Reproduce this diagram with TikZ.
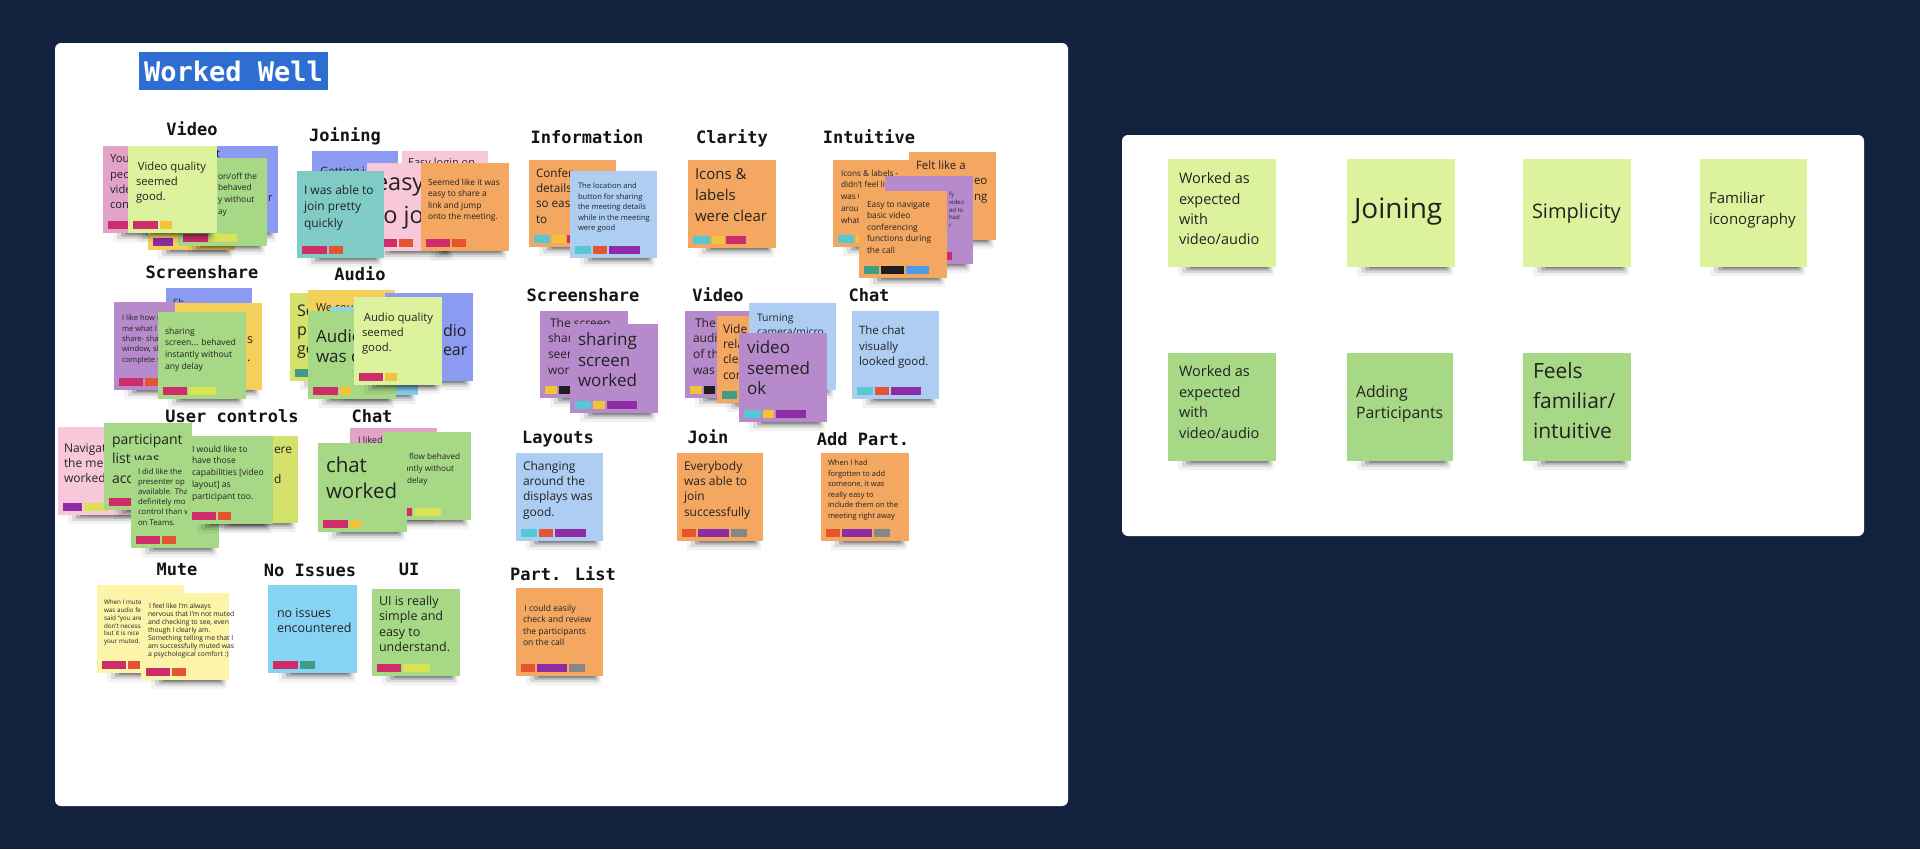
\documentclass[tikz,border=0pt]{standalone}
\usepackage{fontspec}
\setmainfont{Open Sans}
\newfontfamily\hd{DejaVu Sans Mono}
\usetikzlibrary{calc}
\definecolor{navy}{HTML}{12223F}
\definecolor{ttl}{HTML}{2E6DD1}
\definecolor{lyg}{HTML}{DDF29C}
\definecolor{grn}{HTML}{A6D886}
\definecolor{org}{HTML}{F3A761}
\definecolor{pur}{HTML}{B78BCB}
\definecolor{peri}{HTML}{8A9BF1}
\definecolor{lblu}{HTML}{AECDF3}
\definecolor{pnk}{HTML}{E3A3C9}
\definecolor{lpnk}{HTML}{F8C8DA}
\definecolor{tea}{HTML}{80CBC6}
\definecolor{yel}{HTML}{F4D05A}
\definecolor{chr}{HTML}{D4E26B}
\definecolor{cya}{HTML}{86D3F4}
\definecolor{lyel}{HTML}{FBF4A9}
\definecolor{tpk}{HTML}{CE2D69}
\definecolor{tyl}{HTML}{F2C238}
\definecolor{tor}{HTML}{E25530}
\definecolor{tpu}{HTML}{8E2CA6}
\definecolor{tcy}{HTML}{55C8D2}
\definecolor{tyg}{HTML}{D8E456}
\definecolor{ttea}{HTML}{3E9D84}
\definecolor{tbk}{HTML}{1E1E1E}
\definecolor{tbl}{HTML}{4E9CE8}
\definecolor{tgy}{HTML}{878787}
\definecolor{txt}{HTML}{222222}
\tikzset{
  stknote/.style={rectangle,inner sep=0pt,outer sep=0pt,draw=none},
  ntx/.style={anchor=north west,inner sep=0pt,outer sep=0pt,align=left,text=txt},
  hd/.style={anchor=base,inner sep=0pt,font=\hd\bfseries\fontsize{17}{20}\selectfont,text=black!92}
}
% sticky note: name, x, y, w, h, colour
\newcommand\stk[6]{%
  \foreach \sop/\sex/\sl/\sr in {0.05/9/10/2,0.10/6/14/4,0.18/3.5/18/6,0.25/1.5/22/8}{
    \fill[black,opacity=\sop,rounded corners=1.2pt] (#2+\sl,#3+#5-1) rectangle (#2+#4-\sr,#3+#5+\sex);
  }
  \node[stknote,fill=#6,minimum width=#4pt,minimum height=#5pt,anchor=north west] (#1) at (#2,#3) {};
}
% tags: note name, list colour/width
\newcommand\tags[2]{%
  \gdef\tagx{5}%
  \foreach \cc/\ww in {#2}{
    \fill[\cc] ($(#1.south west)+(\tagx,-12)$) rectangle ++(\ww,8);
    \pgfmathsetmacro\ntagx{\tagx+\ww+2}\xdef\tagx{\ntagx}
  }
}
% text: name, x, y (x-height centre of first line), size, skip, text
\newcommand\ntext[6]{\node[ntx,font=\fontsize{#4}{#5}\selectfont] (#1) at (#2,#3-0.5*#4) {\rule{0pt}{0.76em}#6};}
\begin{document}
\begin{tikzpicture}[x=1pt,y=-1pt]
\useasboundingbox (0,0) rectangle (1920,849);
\fill[navy] (0,0) rectangle (1920,849);
\fill[white,rounded corners=6pt] (55,43) rectangle (1068,806);
\fill[white,rounded corners=6pt] (1122,135) rectangle (1864,536);
\node[fill=ttl,minimum width=189pt,minimum height=38pt,inner sep=0pt,text=white,font=\hd\bfseries\fontsize{27}{30}\selectfont] (title) at (233.5,71) {Worked Well};

% ---------------- Video
\stk{vpink}{103}{146}{88}{87}{pnk}\tags{vpink}{tpk/24}
\ntext{tvp}{110}{160}{11.3}{15.3}{You\\peop\\video\\con}
\stk{vblue}{190}{146}{88}{87}{peri}
\ntext{tvb1}{216}{155}{11}{14}{t}
\ntext{tvb2}{268}{199}{11}{14}{r}
\stk{vyel}{148}{163}{87}{87}{yel}\tags{vyel}{tpu/20}
\stk{vgrn}{178}{158}{89}{88}{grn}\tags{vgrn}{tpk/25,tyg/27}
\ntext{tvg}{218}{177}{8.4}{11.7}{on/off the\\behaved\\y without\\ay}
\stk{vfront}{128}{146}{89}{87}{lyg}\tags{vfront}{tpk/25,tyl/12}
\ntext{tvf}{136}{168}{11.3}{15}{\,Video quality\\seemed\\good.}

% ---------------- Joining
\stk{jblue}{312}{151}{86}{87}{peri}
\ntext{tjb}{320}{173}{11.5}{14}{Getting i}
\stk{jpink2}{402}{151}{86}{87}{lpnk}
\ntext{tjp2}{408}{164}{11}{14}{Easy login on}
\stk{jpink}{367}{163}{88}{88}{lpnk}\tags{jpink}{tpk/25,tor/14}
\ntext{tjp}{375}{184}{23.5}{33}{easy\\to jo}
\stk{jteal}{297}{171}{87}{87}{tea}\tags{jteal}{tpk/25,tor/14}
\ntext{tjt}{304}{191}{12}{16.6}{I was able to\\join pretty\\quickly}
\stk{jorg}{421}{163}{88}{88}{org}\tags{jorg}{tpk/24,tor/14}
\ntext{tjo}{428}{183}{8.4}{11.5}{Seemed like it was\\easy to share a\\link and jump\\onto the meeting.}

% ---------------- Information
\stk{iorg}{529}{160}{87}{87}{org}\tags{iorg}{tcy/16,tyl/13,tpk/20}
\ntext{tio}{536}{174}{11.7}{15.4}{Confer\\details\\so eas\\to}
\stk{iblu}{570}{171}{87}{87}{lblu}\tags{iblu}{tcy/16,tor/14,tpu/31}
\ntext{tib}{578}{187}{7.6}{10.4}{The location and\\button for sharing\\the meeting details\\while in the meeting\\were good}

% ---------------- Clarity
\stk{corg}{688}{160}{88}{88}{org}\tags{corg}{tcy/17,tyl/12,tpk/20}
\ntext{tco}{695}{176}{15}{20.6}{Icons \&\\labels\\were clear}

% ---------------- Intuitive
\stk{int1}{833}{160}{87}{87}{org}\tags{int1}{tcy/16,tyl/13}
\ntext{ti1}{841}{174}{8.2}{11.8}{Icons \& labels -\\didn't feel li\\was t\\arou\\what}
\stk{int2}{909}{152}{87}{88}{org}
\ntext{ti2}{916}{167}{11.5}{15.5}{Felt like a}
\ntext{ti2b}{974}{182}{11.5}{15.5}{eo\\ng}
\stk{int3}{885}{176}{88}{88}{pur}\tags{int3}{ttea/15,tbk/23,tpk/20}
\ntext{ti3}{949}{195}{6}{7.8}{fy\\video\\ed to\\had\\r}
\stk{int4}{859}{191}{88}{87}{org}\tags{int4}{ttea/15,tbk/23,tbl/23}
\ntext{ti4}{867}{205}{8.4}{11.6}{Easy to navigate\\basic video\\conferencing\\functions during\\the call}

% ---------------- Screenshare
\stk{sblu}{166}{288}{86}{87}{peri}
\ntext{tsb}{173}{304}{10}{12}{Sh}
\stk{spur}{114}{302}{88}{88}{pur}\tags{spur}{tpk/24,tor/14}
\ntext{tsp}{122}{319}{7.6}{10.3}{I like how i\\me what I\\share- sha\\window, sl\\complete s}
\stk{syel}{175}{303}{87}{87}{yel}
\ntext{tsy}{247}{340}{12.5}{18}{s\\.}
\stk{sgrn}{158}{312}{88}{87}{grn}\tags{sgrn}{tpk/24,tyg/27}
\ntext{tsg}{165}{332}{8.6}{11.6}{sharing\\screen... behaved\\instantly without\\any delay}

% ---------------- Audio
\stk{aylg}{290}{293}{88}{88}{chr}\tags{aylg}{ttea/14}
\ntext{tay}{297}{312}{16}{19.3}{So\\pr\\go}
\stk{ayel}{308}{290}{87}{88}{yel}
\ntext{taye}{316}{309}{11}{14}{We cou}
\stk{acya}{330}{307}{88}{88}{cya}
\stk{ablu}{385}{293}{88}{88}{peri}
\ntext{tab}{443}{332}{16}{19}{dio\\ear}
\stk{agrn}{308}{311}{88}{88}{grn}\tags{agrn}{tpk/25,tyl/11}
\ntext{tag}{316}{338}{17}{20}{Audio\\was c}
\stk{afront}{354}{297}{88}{88}{lyg}\tags{afront}{tpk/24,tyl/12}
\ntext{taf}{362}{319}{11.3}{15}{\,Audio quality\\seemed\\good.}

% ---------------- Screenshare 2
\stk{s2b}{540}{311}{88}{87}{pur}\tags{s2b}{tyl/12,tbk/11,tpu/30}
\ntext{ts2b}{548}{324}{12}{15.7}{\,The screen\\shar\\seem\\work}
\stk{s2f}{570}{324}{88}{89}{pur}\tags{s2f}{tcy/16,tyl/12,tpu/30}
\ntext{ts2f}{578}{341}{17}{20.6}{sharing\\screen\\worked}

% ---------------- Video 2
\stk{v2p}{685}{311}{88}{87}{pur}\tags{v2p}{tyl/12,tbk/11}
\ntext{tv2p}{693}{324}{12}{15.7}{\,The\\audi\\of th\\was}
\stk{v2o}{717}{316}{88}{87}{org}\tags{v2o}{ttea/15,tbk/23}
\ntext{tv2o}{723}{330}{12}{15.3}{Vide\\rela\\clea\\cor}
\stk{v2b}{749}{303}{87}{87}{lblu}
\ntext{tv2b}{757}{319}{10.3}{14}{Turning\\camera/micro}
\stk{v2f}{739}{333}{88}{89}{pur}\tags{v2f}{tcy/17,tyl/11,tpu/30}
\ntext{tv2f}{747}{349}{17}{20.7}{video\\seemed\\ok}

% ---------------- Chat 2
\stk{c2b}{852}{311}{87}{88}{lblu}\tags{c2b}{tcy/16,tor/14,tpu/30}
\ntext{tc2}{859}{332}{11.5}{15.4}{The chat\\visually\\looked good.}

% ---------------- User controls
\stk{upnk}{58}{427}{88}{88}{lpnk}\tags{upnk}{tpu/19,tyg/24}
\ntext{tup}{64}{449}{12}{15}{Navigat\\the mee\\worked}
\stk{uylg}{210}{436}{88}{87}{chr}
\ntext{tuy1}{274}{450}{12}{15}{ere}
\ntext{tuy2}{274}{480}{12}{15}{d}
\stk{ug1}{104}{423}{88}{87}{grn}\tags{ug1}{tpk/22}
\ntext{tug1}{112}{441}{14}{19.2}{participant\\list was\\acc}
\stk{ug2}{131}{460}{88}{88}{grn}\tags{ug2}{tpk/24,tor/14}
\ntext{tug2}{138}{472}{7.8}{10.2}{I did like the\\presenter op\\available. Tha\\definitely mo\\control than w\\on Teams.}
\stk{ug3}{187}{436}{86}{88}{grn}\tags{ug3}{tpk/24,tor/13}
\ntext{tug3}{192}{450}{8.6}{11.7}{I would like to\\have those\\capabilities [video\\layout] as\\participant too.}

% ---------------- Chat 1
\stk{c1p}{350}{428}{87}{87}{pnk}
\ntext{tc1p}{358}{441}{9}{12}{I liked}
\stk{c1g}{383}{432}{88}{88}{grn}\tags{c1g}{tpk/24,tyg/27}
\ntext{tc1g}{404}{457}{8.2}{12}{: flow behaved\\antly without\\\hspace{3pt}delay}
\stk{c1f}{318}{443}{89}{89}{grn}\tags{c1f}{tpk/25,tyl/11}
\ntext{tc1f}{326}{467}{20.5}{26.5}{chat\\worked}

% ---------------- Layouts / Join / Add Part.
\stk{nlay}{516}{453}{87}{88}{lblu}\tags{nlay}{tcy/16,tor/14,tpu/31}
\ntext{tlb}{523}{467}{12}{15.4}{Changing\\around the\\displays was\\good.}
\stk{njn}{677}{453}{86}{88}{org}\tags{njn}{tor/14,tpu/31,tgy/16}
\ntext{tjn}{684}{467}{12}{15.4}{Everybody\\was able to\\join\\successfully}
\stk{nap}{821}{453}{88}{88}{org}\tags{nap}{tor/14,tpu/30,tgy/16}
\ntext{tap}{828}{464}{7.5}{10.5}{When I had\\forgotten to add\\someone, it was\\really easy to\\include them on the\\meeting right away}

% ---------------- Mute / No Issues / UI / Part. List
\stk{mb}{97}{585}{87}{88}{lyel}\tags{mb}{tpk/24,tor/12}
\ntext{tmb}{104}{603}{6.3}{7.8}{When I muted\\was audio fee\\said “you are\\don't necessa\\but it is nice t\\your muted.}
\stk{mf}{141}{593}{88}{87}{lyel}\tags{mf}{tpk/24,tor/14}
\ntext{tmf}{148}{607}{6.8}{8}{\,I feel like I'm always\\nervous that I'm not muted\\and checking to see, even\\though I clearly am.\\Something telling me that I\\am successfully muted was\\a psychological comfort :)}
\stk{nni}{268}{585}{89}{88}{cya}\tags{nni}{tpk/25,ttea/15}
\ntext{tni}{277}{614}{12.5}{15.3}{no issues\\encountered}
\stk{nui}{372}{589}{88}{87}{grn}\tags{nui}{tpk/24,tyg/27}
\ntext{tui}{379}{602}{12.5}{15.5}{UI is really\\simple and\\easy to\\understand.}
\stk{npl}{516}{588}{87}{88}{org}\tags{npl}{tor/14,tpu/30,tgy/16}
\ntext{tpl}{523}{609}{8.6}{11.5}{\,I could easily\\check and review\\the participants\\on the call}

% ---------------- headings
\node[hd] (h1) at (192,135) {Video};
\node[hd] (h2) at (345,141) {Joining};
\node[hd] (h3) at (587,143) {Information};
\node[hd] (h4) at (732,143) {Clarity};
\node[hd] (h5) at (869,143) {Intuitive};
\node[hd] (h6) at (202,278) {Screenshare};
\node[hd] (h7) at (360,280) {Audio};
\node[hd] (h8) at (583,301) {Screenshare};
\node[hd] (h9) at (718,301) {Video};
\node[hd] (h10) at (869,301) {Chat};
\node[hd] (h11) at (232,422) {User controls};
\node[hd] (h12) at (372,422) {Chat};
\node[hd] (h13) at (558,443) {Layouts};
\node[hd] (h14) at (708,443) {Join};
\node[hd] (h15) at (863,445) {Add Part.};
\node[hd] (h16) at (177,575) {Mute};
\node[hd] (h17) at (310,576) {No Issues};
\node[hd] (h18) at (409,575) {UI};
\node[hd] (h19) at (563,580) {Part. List};

% ---------------- right board
\stk{r1}{1168}{159}{108}{108}{lyg}
\ntext{tr1}{1179}{180}{14.5}{20.4}{Worked as\\expected\\with\\video/audio}
\stk{r2}{1347}{159}{108}{108}{lyg}
\ntext{tr2}{1354}{211}{28}{30}{Joining}
\stk{r3}{1523}{159}{108}{108}{lyg}
\ntext{tr3}{1532}{213}{20}{24}{Simplicity}
\stk{r4}{1700}{159}{107}{108}{lyg}
\ntext{tr4}{1709}{200}{15}{20.5}{Familiar\\iconography}
\stk{r5}{1168}{353}{108}{108}{grn}
\ntext{tr5}{1179}{373}{14.5}{20.5}{Worked as\\expected\\with\\video/audio}
\stk{r6}{1347}{353}{106}{108}{grn}
\ntext{tr6}{1356}{393}{15.8}{21.5}{Adding\\Participants}
\stk{r7}{1523}{353}{108}{108}{grn}
\ntext{tr7}{1533}{373}{21}{30}{Feels\\familiar/\\intuitive}
\end{tikzpicture}
\end{document}
